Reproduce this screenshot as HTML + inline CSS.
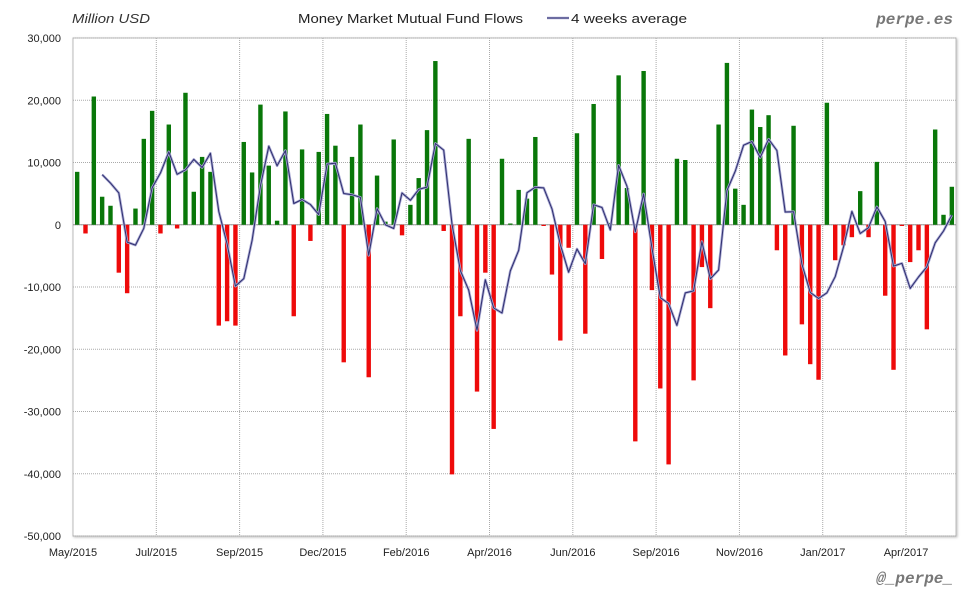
<!DOCTYPE html>
<html><head><meta charset="utf-8"><style>
body{margin:0;background:#fff;width:980px;height:600px;overflow:hidden}
svg text{font-family:"Liberation Sans",sans-serif}
</style></head><body>
<svg id="chart" width="980" height="600" xmlns="http://www.w3.org/2000/svg">
<defs><filter id="sh" x="-5%" y="-5%" width="110%" height="110%"><feDropShadow dx="1" dy="1" stdDeviation="1.2" flood-color="#000" flood-opacity="0.25"/></filter></defs>
<rect x="73" y="38" width="883" height="498" fill="#fff" stroke="#bbb" stroke-width="1" filter="url(#sh)"/>
<g id="grid"></g><g id="bars"></g><g id="line"></g><g id="axes"></g>
<text x="72" y="23" font-size="13" font-style="italic" fill="#333" textLength="78" lengthAdjust="spacingAndGlyphs">Million USD</text>
<text x="298" y="23" font-size="13" fill="#222" textLength="225" lengthAdjust="spacingAndGlyphs">Money Market Mutual Fund Flows</text>
<g>
<line x1="547" y1="18" x2="569" y2="18" stroke="#aaaad4" stroke-width="2.6"/><line x1="547" y1="18" x2="569" y2="18" stroke="#2e2e6e" stroke-width="1"/>
<text x="571" y="23" font-size="13" fill="#222" textLength="116" lengthAdjust="spacingAndGlyphs">4 weeks average</text></g>
<text x="953" y="24" font-size="16" font-weight="bold" font-style="italic" fill="#777" text-anchor="end" style="font-family:'Liberation Mono',monospace">perpe.es</text>
<text x="953" y="583" font-size="16" font-weight="bold" font-style="italic" fill="#777" text-anchor="end" style="font-family:'Liberation Mono',monospace">@_perpe_</text>
</svg>
<script>
const flows=[8500,-1400,20600,4500,3050,-7700,-11000,2600,13800,18300,-1400,16100,-600,21200,5300,10900,8500,-16200,-15500,-16200,13300,8400,19300,9500,650,18200,-14700,12100,-2600,11700,17800,12700,-22100,10900,16100,-24500,7900,500,13700,-1700,3200,7500,15200,26300,-1000,-40100,-14700,13800,-26800,-7700,-32800,10600,200,5600,4200,14100,-200,-8000,-18600,-3700,14700,-17500,19400,-5500,300,24000,5900,-34800,24700,-10500,-26300,-38500,10600,10400,-25000,-6800,-13400,16100,26000,5800,3200,18500,15700,17600,-4100,-21000,15900,-16000,-22400,-24900,19600,-5700,-3300,-2000,5400,-2000,10100,-11400,-23300,-200,-6000,-4100,-16800,15300,1600,6100];
const yTicks=[30000,20000,10000,0,-10000,-20000,-30000,-40000,-50000];
const xLabels=["May/2015","Jul/2015","Sep/2015","Dec/2015","Feb/2016","Apr/2016","Jun/2016","Sep/2016","Nov/2016","Jan/2017","Apr/2017"];
const xLabelIdx=[0,10,20,30,40,50,60,70,80,90,100];
const NS="http://www.w3.org/2000/svg";
const L=73,R=956,T=38,B=536,ymax=30000,ymin=-50000;
const n=flows.length, step=(R-L)/n;
const Y=v=>T+(ymax-v)/(ymax-ymin)*(B-T);
const X=i=>L+step*(i+0.5);
const XE=i=>L+step*i;
function mk(tag,attrs,parent){const e=document.createElementNS(NS,tag);for(const k in attrs)e.setAttribute(k,attrs[k]);document.getElementById(parent).appendChild(e);return e;}
yTicks.forEach(v=>{
 const g=mk('line',{x1:L,x2:R,y1:Y(v),y2:Y(v),stroke:'#aaa','stroke-dasharray':'1,1'},'grid');
 
 
 const t=mk('text',{x:61,y:Y(v)+4,'font-size':11,fill:'#222','text-anchor':'end'},'axes');
 t.textContent=v.toLocaleString('en-US');
 
 
});
xLabels.forEach((lab,k)=>{
 const x=XE(xLabelIdx[k]);
 if(k>0){const g=mk('line',{x1:x,x2:x,y1:T,y2:B,stroke:'#aaa','stroke-dasharray':'1,1'},'grid');
 
 }
 const t=mk('text',{x:x,y:556,'font-size':11,fill:'#222','text-anchor':'middle'},'axes');
 t.textContent=lab;
 
 
});
const z=mk('line',{x1:L,x2:R,y1:Y(0),y2:Y(0),stroke:'#999','stroke-width':1},'grid');


flows.forEach((v,i)=>{
 const y0=Y(0),y1=Y(v);
 const r=mk('rect',{x:X(i)-2.2,width:4.4,y:Math.min(y0,y1),height:Math.max(0.8,Math.abs(y1-y0)),fill:v>=0?'#097709':'#ee0a0a'},'bars');
 
 
});
const avg=[];
for(let i=3;i<n;i++){avg.push([i,(flows[i]+flows[i-1]+flows[i-2]+flows[i-3])/4]);}
const d=avg.map((p,k)=>(k?'L':'M')+X(p[0]).toFixed(1)+','+Y(p[1]).toFixed(1)).join(' ');
const l1=mk('path',{d:d,fill:'none',stroke:'#aaaad4','stroke-width':2.6,'stroke-linejoin':'round'},'line');


const l2=mk('path',{d:d,fill:'none',stroke:'#2e2e6e','stroke-width':1,'stroke-linejoin':'round'},'line');


</script>
</body></html>
